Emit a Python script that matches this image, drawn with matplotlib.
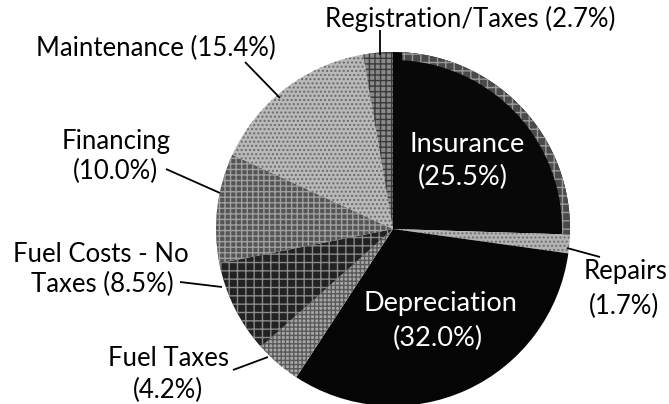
import matplotlib
matplotlib.use("Agg")
import matplotlib.pyplot as plt
from matplotlib.patches import Wedge

# ---- data ----
categories = ["Insurance", "Repairs", "Depreciation", "Fuel Taxes",
              "Fuel Costs - No Taxes", "Financing", "Maintenance",
              "Registration/Taxes"]
shares = [25.5, 1.7, 32.0, 4.2, 8.5, 10.0, 15.4, 2.7]

# ---- styles ----
faces = ["#080808", "#b4b4b4", "#050505", "#a8a8a8",
         "#222222", "#555555", "#b9b9b9", "#8a8a8a"]
hatch_cols = ["#080808", "#707070", "#050505", "#5a5a5a",
              "#8a8a8a", "#a0a0a0", "#6a6a6a", "#3a3a3a"]
hatches = [None, "....", None, "++++", "++", "+++", "....", "+++"]

W, H = 669, 404
fig = plt.figure(figsize=(W / 100, H / 100), dpi=100)
ax = fig.add_axes([0, 0, 1, 1])

plt.rcParams["hatch.linewidth"] = 1.0

def Y(py):
    return H - py

cx, cy, R = 393, Y(229), 177

wedges, _ = ax.pie(shares, startangle=90, counterclock=False,
                   center=(cx, cy), radius=R, frame=True,
                   wedgeprops=dict(linewidth=0))
ax.set_xlim(0, W)
ax.set_ylim(0, H)
ax.set_aspect("equal")
ax.axis("off")
for w, fc, hc, h in zip(wedges, faces, hatch_cols, hatches):
    w.set_facecolor(fc)
    if h:
        w.set_hatch(h)
        w.set_edgecolor(hc)
        w.set_linewidth(0)

# grey rim on the insurance slice's outer edge
ins = wedges[0]
rim = Wedge((cx, cy), R, ins.theta1, ins.theta2 - 3, width=8,
            facecolor="#4a4a4a", edgecolor="#9a9a9a", hatch="++",
            linewidth=0)
ax.add_patch(rim)

outer_font = dict(family=["Lato", "DejaVu Sans"], fontsize=18.5,
                  color="black", ha="center", va="center")
inner_font = dict(family=["Lato", "DejaVu Sans"], fontsize=19.5,
                  color="white", ha="center", va="center",
                  fontweight="normal")

def lab(name, v):
    return f"{name} ({v:.1f}%)"

# outer labels
ax.text(470, Y(19), lab(categories[7], shares[7]), **outer_font)
ax.text(156, Y(48), lab(categories[6], shares[6]), **outer_font)
ax.text(116, Y(142), categories[5], **outer_font)
ax.text(115, Y(171), f"({shares[5]:.1f}%)", **outer_font)
ax.text(101, Y(254), "Fuel Costs - No", **outer_font)
ax.text(102, Y(284), f"Taxes ({shares[4]:.1f}%)", **outer_font)
ax.text(168, Y(359), categories[3], **outer_font)
ax.text(168, Y(390), f"({shares[3]:.1f}%)", **outer_font)
ax.text(626, Y(272), categories[1], **outer_font)
ax.text(624, Y(306), f"({shares[1]:.1f}%)", **outer_font)

# inner labels
ax.text(467, Y(144), categories[0], **inner_font)
ax.text(463, Y(177), f"({shares[0]:.1f}%)", **inner_font)
ax.text(440, Y(304), categories[2], **inner_font)
ax.text(438, Y(338), f"({shares[2]:.1f}%)", **inner_font)

# leader lines
leaders = [((380, 30), (380, 55)),
           ((245, 62), (280, 98)),
           ((166, 169), (220, 193)),
           ((180, 282), (222, 287)),
           ((233, 370), (268, 357)),
           ((567, 248), (600, 257))]
for (x0, y0), (x1, y1) in leaders:
    ax.plot([x0, x1], [Y(y0), Y(y1)], color="black", lw=1.3,
            solid_capstyle="butt")

fig.savefig("out.png", dpi=100, facecolor="white")
